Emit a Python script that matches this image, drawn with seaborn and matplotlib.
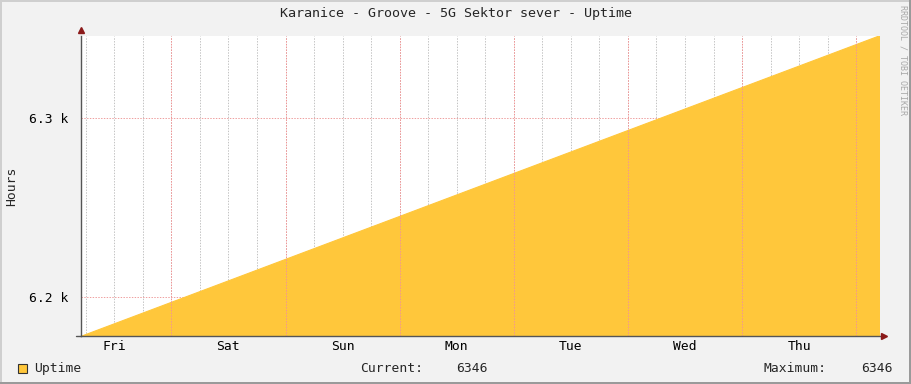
import pandas as pd
import numpy as np
import seaborn as sns
import matplotlib
matplotlib.use('Agg')
import matplotlib.pyplot as plt
import matplotlib.dates as mdates
from matplotlib.patches import Rectangle
from matplotlib.transforms import offset_copy

# uptime in hours at start, each midnight and end
times = ['2021-04-16 05:00', '2021-04-17 00:00', '2021-04-18 00:00',
         '2021-04-19 00:00', '2021-04-20 00:00', '2021-04-21 00:00',
         '2021-04-22 00:00', '2021-04-23 00:00', '2021-04-23 05:00']
uptime = [6178, 6197, 6221, 6245, 6269, 6293, 6317, 6341, 6346]
y_ticks = [6200, 6300]
y_tick_labels = ['6.2 k', '6.3 k']
title = 'Karanice - Groove - 5G Sektor sever - Uptime'
series_name = 'Uptime'
current_val = '6346'
maximum_val = '6346'

df = pd.DataFrame({'time': pd.to_datetime(times), 'hours': uptime})

W, H = 911, 384
BG = '#F2F2F2'
FILL = '#FFC73B'
MONO = 'DejaVu Sans Mono'
DOT = (0, (1.4, 1.4))

sns.set_style('white')
plt.rcParams['font.family'] = MONO

fig = plt.figure(figsize=(W / 100, H / 100), dpi=100, facecolor=BG)

def fx(px):
    return px / W

def fy(py):
    return 1 - py / H

ax = fig.add_axes([fx(81), fy(336), fx(880) - fx(81), fy(36) - fy(336)])
ax.set_facecolor('white')

ax.fill_between(df['time'], df['hours'], 6000, color=FILL, lw=0, zorder=1)
sns.lineplot(data=df, x='time', y='hours', ax=ax, color=FILL, lw=0.8, zorder=2)

ax.set_xlim(df['time'].iloc[0], df['time'].iloc[-1])
ax.set_ylim(6178.2, 6345.8)

# y grid (major, red dotted)
ax.set_yticks(y_ticks)
ax.set_yticklabels(y_tick_labels)
ax.grid(axis='y', which='major', color='#EFA0A0', lw=0.72, ls=DOT, zorder=3)

# x: labels at noon, gray grid every 6h, red grid at midnight
ax.xaxis.set_major_locator(mdates.HourLocator(byhour=[12]))
ax.xaxis.set_major_formatter(mdates.DateFormatter('%a'))
ax.xaxis.set_minor_locator(mdates.HourLocator(byhour=[0, 6, 12, 18]))
ax.xaxis.remove_overlapping_locs = False
ax.grid(axis='x', which='minor', color='#C4C4C4', lw=0.72, ls=DOT, zorder=3)
ax.grid(axis='x', which='major', visible=False)
midnights = pd.date_range(df['time'].iloc[0].ceil('D'), df['time'].iloc[-1], freq='D')
for m in midnights:
    ax.axvline(m, color='#F29494', lw=0.72, ls=DOT, zorder=3)

ax.tick_params(axis='both', which='both', length=0, labelsize=9.4, colors='black')
ax.tick_params(axis='x', pad=3)
ax.tick_params(axis='y', pad=9)
ax.set_xlabel('')
ax.set_ylabel('')

for s in ['top', 'right']:
    ax.spines[s].set_visible(False)
for s in ['left', 'bottom']:
    ax.spines[s].set_color('#555555')
    ax.spines[s].set_linewidth(1.0)
    ax.spines[s].set_zorder(5)

# arrows at axis ends
tr_up = offset_copy(ax.transAxes, fig=fig, x=0, y=4, units='points')
ax.plot([0], [1], marker='^', color='#8B1A1A', ms=5, transform=tr_up, clip_on=False, zorder=6)
tr_rt = offset_copy(ax.transAxes, fig=fig, x=3, y=0, units='points')
ax.plot([1], [0], marker='>', color='#8B1A1A', ms=5, transform=tr_rt, clip_on=False, zorder=6)
# small overhang of x axis on the left
ax.plot([-0.006, 0], [0, 0], color='#555555', lw=1.0, transform=ax.transAxes, clip_on=False, zorder=6)

# title, y label and watermark
fig.text(0.5, fy(14), title, ha='center', va='center', fontsize=9.6, family=MONO)
fig.text(fx(12), fy(186), 'Hours', rotation=90, ha='center', va='center', fontsize=9.4, family=MONO)
fig.text(fx(903), fy(5), 'RRDTOOL / TOBI OETIKER', rotation=270, ha='center', va='top',
         fontsize=6, color='#A8A8A8', family=MONO)

# legend row
fig.patches.append(Rectangle((fx(17.5), fy(373)), fx(9), 9 / H, transform=fig.transFigure,
                             facecolor=FILL, edgecolor='#333333', lw=0.8))
fig.text(fx(34), fy(368.5), series_name, ha='left', va='center', fontsize=9.4, family=MONO)
fig.text(fx(360), fy(368.5), 'Current:', ha='left', va='center', fontsize=9.4, family=MONO)
fig.text(fx(488), fy(368.5), current_val, ha='right', va='center', fontsize=9.4, family=MONO)
fig.text(fx(764), fy(368.5), 'Maximum:', ha='left', va='center', fontsize=9.4, family=MONO)
fig.text(fx(893), fy(368.5), maximum_val, ha='right', va='center', fontsize=9.4, family=MONO)

# frame: light top/left, dark bottom/right
fig.patches.append(Rectangle((0, fy(1.5)), 1, 1.5 / H, transform=fig.transFigure, color='#CFCFCF', lw=0))
fig.patches.append(Rectangle((0, 0), 1.5 / W, 1, transform=fig.transFigure, color='#CFCFCF', lw=0))
fig.patches.append(Rectangle((0, 0), 1, 2.5 / H, transform=fig.transFigure, color='#9A9A9A', lw=0))
fig.patches.append(Rectangle((1 - 2.5 / W, 0), 2.5 / W, 1, transform=fig.transFigure, color='#9A9A9A', lw=0))

fig.savefig('out.png', dpi=100, facecolor=BG)
